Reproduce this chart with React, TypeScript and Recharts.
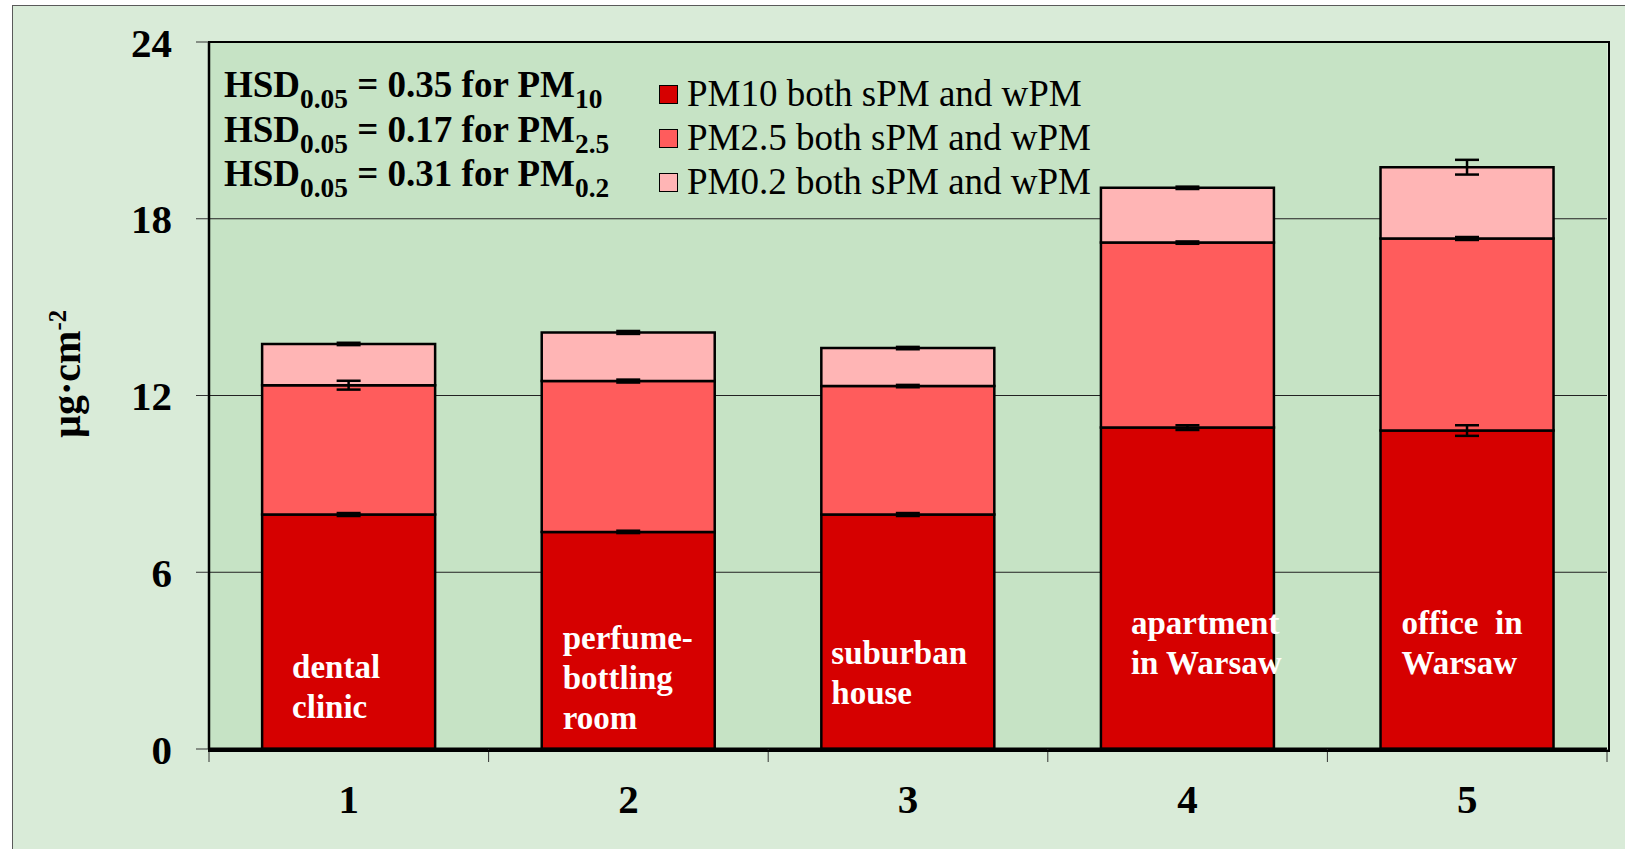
import React from 'react'
import { BarChart, Bar, XAxis, YAxis, CartesianGrid, ErrorBar } from 'recharts'

const categories = ['1', '2', '3', '4', '5']
const pm10 = [7.96, 7.37, 7.96, 10.91, 10.81]
const pm25 = [4.39, 5.12, 4.36, 6.28, 6.52]
const pm02 = [1.4, 1.65, 1.29, 1.86, 2.42]
const err10 = [0.05, 0.04, 0.05, 0.08, 0.18]
const err25 = [0.15, 0.05, 0.04, 0.04, 0.05]
const err02 = [0.04, 0.05, 0.04, 0.04, 0.25]
const yTicks = [0, 6, 12, 18, 24]
const siteNames = [
  ['dental', 'clinic'],
  ['perfume-', 'bottling', 'room'],
  ['suburban', 'house'],
  ['apartment', 'in Warsaw'],
  ['office  in', 'Warsaw'],
]
const hsdRows = [
  { v: '0.35', pm: '10' },
  { v: '0.17', pm: '2.5' },
  { v: '0.31', pm: '0.2' },
]
const series = [
  { key: 'pm10', err: 'e10', name: 'PM10 both sPM and wPM', color: '#d60000' },
  { key: 'pm25', err: 'e25', name: 'PM2.5 both sPM and wPM', color: '#ff5c5c' },
  { key: 'pm02', err: 'e02', name: 'PM0.2 both sPM and wPM', color: '#ffb5b5' },
]

// label placement inside the red bars (px from bar left / zero line)
const labelLayout = [
  { dx: 30, dy: -71 },
  { dx: 21, dy: -100 },
  { dx: 10, dy: -85 },
  { dx: 30, dy: -115 },
  { dx: 21, dy: -115 },
]

const data = categories.map((c, i) => ({
  name: c,
  pm10: pm10[i],
  pm25: pm25[i],
  pm02: pm02[i],
  e10: err10[i],
  e25: err25[i],
  e02: err02[i],
}))

const W = 1625
const H = 849
const PLOT = { left: 209, top: 42, right: 1607, bottom: 749 }
const BAND = (PLOT.right - PLOT.left) / categories.length
const SERIF = '"Liberation Serif", "Times New Roman", serif'

function XTick(props: any) {
  const { x, payload, index } = props
  const left = x - BAND / 2
  return (
    <g>
      <line x1={left} x2={left} y1={PLOT.bottom} y2={PLOT.bottom + 13} stroke="#333" strokeWidth={1} />
      {index === categories.length - 1 && (
        <line x1={x + BAND / 2} x2={x + BAND / 2} y1={PLOT.bottom} y2={PLOT.bottom + 13} stroke="#333" strokeWidth={1} />
      )}
      <text x={x} y={PLOT.bottom + 64} textAnchor="middle" fontFamily={SERIF} fontWeight="bold" fontSize={41} fill="#000">
        {payload.value}
      </text>
    </g>
  )
}

function SiteLabel(props: any) {
  const { x, index } = props
  const lay = labelLayout[index]
  const lines = siteNames[index]
  return (
    <text x={x + lay.dx} y={PLOT.bottom + lay.dy} fontFamily={SERIF} fontWeight="bold" fontSize={33} fill="#fff">
      {lines.map((l, j) => (
        <tspan key={j} x={x + lay.dx} dy={j === 0 ? 0 : 40} style={{ whiteSpace: 'pre' }}>
          {l}
        </tspan>
      ))}
    </text>
  )
}

const subStyle: React.CSSProperties = { fontSize: '0.74em', position: 'relative', top: '0.42em', lineHeight: 0 }

export default function App() {
  return (
    <div style={{ position: 'absolute', left: 0, top: 0, width: W, height: H, overflow: 'hidden', background: '#fff' }}>
      <div
        style={{
          position: 'absolute',
          left: 12,
          top: 5,
          width: W,
          height: H,
          background: '#d9ebd8',
          border: '1.5px solid #5a5a5a',
        }}
      />
      <div style={{ position: 'absolute', left: 0, top: 0 }}>
        <BarChart
          width={W}
          height={H}
          data={data}
          margin={{ top: PLOT.top, right: W - PLOT.right, left: PLOT.left - 100, bottom: H - PLOT.bottom - 60 }}
          barCategoryGap="19%"
        >
          <CartesianGrid vertical={false} fill="#c6e3c5" stroke="#222" strokeWidth={1} />
          <XAxis
            dataKey="name"
            height={60}
            tick={<XTick />}
            tickLine={false}
            axisLine={{ stroke: '#000', strokeWidth: 3 }}
            interval={0}
          />
          <YAxis
            width={100}
            domain={[0, 24]}
            ticks={yTicks}
            tickSize={13}
            tickMargin={24}
            tickLine={{ stroke: '#333', strokeWidth: 1 }}
            axisLine={{ stroke: '#000', strokeWidth: 2.5 }}
            tick={{ fontFamily: SERIF, fontWeight: 'bold', fontSize: 41, fill: '#000' }}
          />
          {series.map((s) => (
            <Bar
              key={s.key}
              dataKey={s.key}
              stackId="a"
              fill={s.color}
              stroke="#000"
              strokeWidth={2.5}
              isAnimationActive={false}
              label={s.key === 'pm10' ? <SiteLabel /> : undefined}
            >
              <ErrorBar dataKey={s.err} width={12} stroke="#000" strokeWidth={2.5} direction="y" />
            </Bar>
          ))}
        </BarChart>
      </div>
      {/* plot frame */}
      <div
        style={{
          position: 'absolute',
          left: PLOT.left - 1,
          top: PLOT.top - 1,
          width: PLOT.right - PLOT.left,
          height: PLOT.bottom - PLOT.top,
          border: '2px solid #000',
          pointerEvents: 'none',
        }}
      />
      {/* y axis title */}
      <div
        style={{
          position: 'absolute',
          left: 67,
          top: 374,
          transform: 'translate(-50%, -50%) rotate(-90deg)',
          fontFamily: SERIF,
          fontWeight: 'bold',
          fontSize: 40,
          lineHeight: '40px',
          whiteSpace: 'nowrap',
        }}
      >
        µg·cm<sup style={{ fontSize: '0.62em', lineHeight: 0 }}>-2</sup>
      </div>
      {/* HSD annotation */}
      <div style={{ position: 'absolute', left: 224, top: 63, fontFamily: SERIF, fontWeight: 'bold', fontSize: 37, lineHeight: '44.5px' }}>
        {hsdRows.map((r, i) => (
          <div key={i} style={{ whiteSpace: 'nowrap' }}>
            HSD<span style={subStyle}>0.05</span> = {r.v} for PM<span style={subStyle}>{r.pm}</span>
          </div>
        ))}
      </div>
      {/* legend */}
      <div style={{ position: 'absolute', left: 659, top: 72, fontFamily: SERIF, fontSize: 37, lineHeight: '44px' }}>
        {series.map((s) => (
          <div key={s.key} style={{ display: 'flex', alignItems: 'center', whiteSpace: 'nowrap' }}>
            <span
              style={{
                display: 'inline-block',
                width: 17,
                height: 17,
                background: s.color,
                border: '1.5px solid #000',
                marginRight: 9,
              }}
            />
            {s.name}
          </div>
        ))}
      </div>
    </div>
  )
}
